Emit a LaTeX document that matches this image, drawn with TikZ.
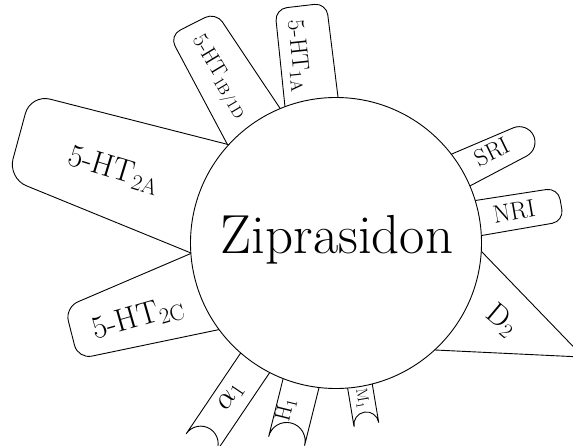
\RequirePackage{fix-cm}
\documentclass[tikz,border=0pt]{standalone}
\usetikzlibrary{calc}
\begin{document}
\begin{tikzpicture}[x=1pt,y=-1pt,line width=0.9pt,line join=round,
  tab/.style={draw=black,fill=white},
  lbl/.style={inner sep=0pt}]
\useasboundingbox (0,0) rectangle (573,446);
\clip (0,0) rectangle (573,446);
\coordinate (C) at (336,243);

% 5-HT1A
\coordinate (a1) at (285,107);
\coordinate (a2) at (274.9,9);
\coordinate (a3) at (326.3,3);
\coordinate (a4) at (338,97);
\draw[tab,rounded corners=12pt] ($(a2)!1.3!(a1)$) -- (a2) -- (a3) -- ($(a3)!1.3!(a4)$) -- cycle;

% 5-HT1B/1D
\coordinate (b1) at (227.7,145);
\coordinate (b2) at (169.4,35.5);
\coordinate (b3) at (215.8,12.1);
\coordinate (b4) at (280,108.3);
\draw[tab,rounded corners=12pt] ($(b2)!1.3!(b1)$) -- (b2) -- (b3) -- ($(b3)!1.3!(b4)$) -- cycle;

% 5-HT2A
\coordinate (c1) at (230,145);
\coordinate (c2) at (30.6,94.2);
\coordinate (c3) at (7.8,178.2);
\coordinate (c4) at (191.7,253.3);
\draw[tab,rounded corners=20pt] ($(c2)!1.2!(c1)$) -- (c2) -- (c3) -- ($(c3)!1.2!(c4)$) -- cycle;

% 5-HT2C
\coordinate (d1) at (192,253);
\coordinate (d2) at (64.9,307.4);
\coordinate (d3) at (78,359);
\coordinate (d4) at (219,329.6);
\draw[tab,rounded corners=14pt] ($(d2)!1.25!(d1)$) -- (d2) -- (d3) -- ($(d3)!1.25!(d4)$) -- cycle;

% SRI
\coordinate (e1) at (453,153.5);
\coordinate (e2) at (527,122);
\coordinate (e3) at (540,149);
\coordinate (e4) at (471.7,185);
\draw[tab,rounded corners=15pt] ($(e2)!1.4!(e1)$) -- (e2) -- (e3) -- ($(e3)!1.4!(e4)$) -- cycle;

% NRI
\coordinate (f1) at (476.7,200.3);
\coordinate (f2) at (558.1,187.7);
\coordinate (f3) at (563.9,221.3);
\coordinate (f4) at (481.7,235.5);
\draw[tab,rounded corners=12pt] ($(f2)!1.4!(f1)$) -- (f2) -- (f3) -- ($(f3)!1.4!(f4)$) -- cycle;

% D2
\coordinate (g1) at (481.7,251.7);
\coordinate (g2) at (583.4,357.1);
\coordinate (g3) at (435,350);
\draw[tab] ($(g2)!1.3!(g1)$) -- (g2) -- ($(g2)!1.3!(g3)$) -- cycle;

% alpha1, H1, M1
\begin{scope}[shift={(C)},rotate=-124,y=1pt]
  \draw[tab] (100,-17.5) -- (242,-17.5) arc[start angle=-90,end angle=-270,radius=17.5pt] -- (100,17.5) -- cycle;
\end{scope}
\begin{scope}[shift={(C)},rotate=-104,y=1pt]
  \draw[tab] (100,-18.5) -- (204,-18.5) arc[start angle=-90,end angle=-270,radius=18.5pt] -- (100,18.5) -- cycle;
\end{scope}
\begin{scope}[shift={(C)},rotate=-80.5,y=1pt]
  \draw[tab] (100,-12.5) -- (184,-12.5) arc[start angle=-90,end angle=-270,radius=12.5pt] -- (100,12.5) -- cycle;
\end{scope}

% centre
\draw[fill=white] (C) circle[radius=145.5pt];

% labels
\node[lbl,font=\fontsize{55}{66}\selectfont] (zip) at (337,240) {Ziprasidon};
\node[lbl,rotate=-84,font=\fontsize{24}{29}\selectfont] (l1a) at (298,56) {5-HT$_{\mathrm{1A}}$};
\node[lbl,rotate=-59,font=\fontsize{22}{26}\selectfont] (l1b) at (219,77) {5-HT$_{\mathrm{1B/1D}}$};
\node[lbl,rotate=-17,font=\fontsize{32}{38}\selectfont] (l2a) at (114,170) {5-HT$_{\mathrm{2A}}$};
\node[lbl,rotate=16,font=\fontsize{32}{38}\selectfont] (l2c) at (138,318) {5-HT$_{\mathrm{2C}}$};
\node[lbl,rotate=26,font=\fontsize{24}{29}\selectfont] (lsri) at (492,152) {SRI};
\node[lbl,rotate=10,font=\fontsize{25}{30}\selectfont] (lnri) at (514,212) {NRI};
\node[lbl,rotate=-40,font=\fontsize{30}{36}\selectfont] (ld2) at (502,320) {D$_2$};
\node[lbl,rotate=56,font=\fontsize{30}{36}\selectfont] (lal) at (231,397) {$\alpha_1$};
\node[lbl,rotate=76,font=\fontsize{22}{26}\selectfont] (lh1) at (286,410) {H$_1$};
\node[lbl,rotate=-80.5,font=\fontsize{16}{19}\selectfont] (lm1) at (362,399) {M$_1$};
\end{tikzpicture}
\end{document}
